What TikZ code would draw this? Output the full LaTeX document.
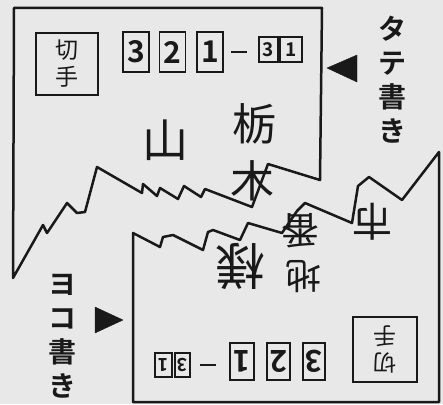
\documentclass[tikz,border=0pt]{standalone}
\usepackage{fontspec}
\newfontfamily\jp{Noto Sans CJK JP}[BoldFont={Noto Sans CJK JP Bold}]
\usepackage{tikz}
\definecolor{paper}{RGB}{232,232,232}
\definecolor{ink}{RGB}{25,25,25}
\tikzset{
	card/.style={draw=ink, line width=2.5pt, line join=round},
	kanji/.style={text=ink, inner sep=0pt, font=\jp\fontsize{#1}{#1}\selectfont},
	codebox/.style={draw=ink, line width=1.9pt, inner sep=0pt, text=ink, font=\jp\bfseries\fontsize{30}{30}\selectfont},
	stampbox/.style={draw=ink, line width=1.9pt, inner sep=0pt, minimum width=62pt, minimum height=62pt, align=center, text=ink, font=\jp\fontsize{23}{27}\selectfont},
	sidelabel/.style={text=ink, inner sep=0pt, align=center, font=\jp\bfseries\fontsize{28}{34}\selectfont},
}

\begin{document}
\begin{tikzpicture}[x=1pt, y=-1pt]
\fill[paper] (0,0) rectangle (443,404);
\useasboundingbox (0,0) rectangle (443,404);

% upper card (tate)
\draw[card] (14,8) -- (322,8) -- (320,180) -- (268,164) -- (252,207) -- (205,189) -- (201,197) -- (184,186) -- (178,199) -- (160,188) -- (157,196) -- (143,184) -- (142,193) -- (97,167) -- (85,212) -- (77,213) -- (67,203) -- (47,233) -- (43,225) -- (13,278) -- cycle;
\node[stampbox] (stampA) at (67,64) {切\\手};
\node[codebox, minimum width=26pt, minimum height=40pt] (codeA1) at (136,52) {3};
\node[codebox, minimum width=26pt, minimum height=40pt] (codeA2) at (172.5,52) {2};
\node[codebox, minimum width=26pt, minimum height=40pt] (codeA3) at (210,52) {1};
\node[inner sep=0pt, text=ink] (dashA) at (239,52) {\rule{16pt}{2.2pt}};
\node[codebox, minimum width=19pt, minimum height=25pt, font=\jp\bfseries\fontsize{19}{19}\selectfont] (codeA4) at (268.5,49.5) {3};
\node[codebox, minimum width=22pt, minimum height=25pt, font=\jp\bfseries\fontsize{19}{19}\selectfont] (codeA5) at (291,49.5) {1};
\node[kanji=44] (tochi) at (254,124) {栃};
\node[kanji=44] (ki) at (252,181) {木};
\node[kanji=46] (yama) at (165,140) {山};
\filldraw[ink] (327,68) -- (357,55) -- (357,82) -- cycle;
\node[sidelabel] (tate) at (392,80) {タ\\テ\\書\\き};

% lower card (yoko), upside down
\draw[card] (133,233) -- (133,402) -- (439,402) -- (439,152) -- (402,200) -- (369,177) -- (358,186) -- (352,223) -- (305,203) -- (297,211) -- (282,233) -- (248,223) -- (240,240) -- (213,230) -- (208,232) -- (203,250) -- (173,235) -- (163,237) -- (160,247) -- cycle;
\node[stampbox, rotate=180, minimum width=64pt, minimum height=65pt] (stampB) at (385,349.5) {切\\手};
\node[codebox, rotate=180, minimum width=22pt, minimum height=37pt] (codeB1) at (314,361.5) {3};
\node[codebox, rotate=180, minimum width=23pt, minimum height=37pt] (codeB2) at (278.5,361.5) {2};
\node[codebox, rotate=180, minimum width=24pt, minimum height=37pt] (codeB3) at (242,361.5) {1};
\node[inner sep=0pt, text=ink] (dashB) at (208,365) {\rule{16pt}{2.2pt}};
\node[codebox, rotate=180, minimum width=15pt, minimum height=24pt, font=\jp\bfseries\fontsize{18}{18}\selectfont] (codeB4) at (182.5,365) {3};
\node[codebox, rotate=180, minimum width=17pt, minimum height=24pt, font=\jp\bfseries\fontsize{18}{18}\selectfont] (codeB5) at (163.5,365) {1};
\node[kanji=40, rotate=180] (shi) at (372,222) {市};
\node[kanji=38, rotate=180] (ban) at (300,231) {番};
\node[kanji=36, rotate=180] (chi) at (303,277) {地};
\node[kanji=50, rotate=180] (sama) at (240,266) {様};
\filldraw[ink] (123,320) -- (95,307) -- (95,333) -- cycle;
\node[sidelabel] (yoko) at (62,336) {ヨ\\コ\\書\\き};
\end{tikzpicture}
\end{document}
